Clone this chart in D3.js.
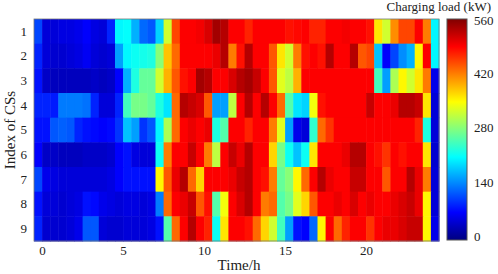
<!DOCTYPE html>
<html>
<head>
<meta charset="utf-8">
<script src="https://cdn.jsdelivr.net/npm/d3@7"></script>
<style>
  body { margin: 0; background: #fff; }
  svg { display: block; }
  text { font-family: "Liberation Serif", "Times New Roman", serif; fill: #222; }
</style>
</head>
<body>
<svg id="chart" width="498" height="274"></svg>
<script>
// ---- data: charging load (kW) of each CS over 50 half-hour slots ----
const csLabels = [1, 2, 3, 4, 5, 6, 7, 8, 9];
const xTicks = [0, 5, 10, 15, 20];
const cbarTicks = [0, 140, 280, 420, 560];
const slotStart = -0.5;   // first slot begins at -0.5 h
const slotWidth = 0.5;    // half-hour slots

const cs1 = [100,40,40,45,45,50,60,45,40,80,200,205,160,120,110,180,320,450,490,490,
             495,510,540,530,490,490,470,490,490,490,490,480,485,490,470,470,490,490,495,490,
             490,480,360,320,410,450,450,490,420,200];
const cs2 = [80,40,35,35,40,45,55,40,35,40,150,200,210,215,220,280,380,430,490,490,
             490,490,500,530,420,480,530,490,490,440,360,320,420,480,490,480,530,490,490,530,
             440,450,170,60,100,140,160,350,490,200];
const cs3 = [70,30,25,25,25,25,25,30,25,30,60,160,220,260,260,320,390,440,480,490,
             540,530,490,490,510,530,540,520,490,440,330,310,390,490,490,490,490,490,490,490,
             490,490,240,150,300,350,320,360,420,50];
const cs4 = [80,80,75,130,130,130,125,80,40,40,80,240,270,270,260,220,190,430,530,520,
             510,440,150,150,310,490,530,490,530,490,430,250,190,180,340,480,490,490,490,490,
             490,520,490,490,500,530,530,520,360,40];
const cs5 = [70,70,110,115,110,80,70,65,60,65,90,170,150,90,110,200,300,430,490,500,
             490,500,220,250,490,490,470,490,490,420,330,150,50,40,230,430,460,490,490,490,
             490,490,490,490,490,490,490,470,220,40];
const cs6 = [60,30,30,25,25,25,30,30,30,35,60,70,45,40,40,210,420,490,490,520,
             490,420,310,490,520,500,530,490,490,370,270,210,170,210,360,490,490,490,500,530,
             530,490,480,460,490,480,490,490,360,35];
const cs7 = [100,50,45,40,40,40,40,40,40,45,60,70,70,70,70,350,440,500,530,430,
             370,490,490,490,500,520,530,490,480,420,260,280,350,430,490,530,500,490,490,520,
             520,490,490,440,490,490,530,500,420,40];
const cs8 = [70,40,40,35,40,45,70,65,50,45,40,45,45,40,45,130,430,490,500,520,
             440,480,250,340,490,510,530,490,420,430,250,270,330,370,440,490,490,500,490,510,
             490,500,490,490,500,510,520,500,350,40];
const cs9 = [80,35,35,35,40,50,110,110,40,35,35,40,40,40,45,70,250,430,490,530,
             490,470,210,360,490,490,480,430,370,320,240,150,70,60,120,350,490,430,470,490,
             490,460,490,500,500,510,520,520,350,50];
const loads = [cs1, cs2, cs3, cs4, cs5, cs6, cs7, cs8, cs9];

// ---- layout ----
const svg = d3.select("#chart");
const plot = { left: 34, right: 439, top: 19, bottom: 241 };
const cbar = { left: 447, right: 467, top: 19, bottom: 240 };
const cDomain = [-10, 560];

const x = d3.scaleLinear().domain([-0.5, 24.5]).range([plot.left, plot.right]);
const y = d3.scaleBand().domain(csLabels).range([plot.top, plot.bottom]);

function jet(t) {
  t = Math.max(0, Math.min(1, t));
  const c = v => Math.round(255 * Math.max(0, Math.min(1, v)));
  const r = c(1.5 - Math.abs(4 * t - 3));
  const g = c(1.5 - Math.abs(4 * t - 2));
  const b = c(1.5 - Math.abs(4 * t - 1));
  return `rgb(${r},${g},${b})`;
}
const tScale = d3.scaleLinear().domain(cDomain).range([0, 1]).clamp(true);
const color = v => jet(tScale(v));

// cells
const cells = [];
loads.forEach((row, r) => {
  row.forEach((v, i) => cells.push({ cs: csLabels[r], t0: slotStart + i * slotWidth, v }));
});
svg.append("g").selectAll("rect").data(cells).join("rect")
  .attr("x", d => x(d.t0))
  .attr("y", d => y(d.cs))
  .attr("width", d => x(d.t0 + slotWidth) - x(d.t0) + 0.5)
  .attr("height", y.bandwidth() + 0.5)
  .attr("fill", d => color(d.v));

// frame
svg.append("rect")
  .attr("x", plot.left).attr("y", plot.top)
  .attr("width", plot.right - plot.left).attr("height", plot.bottom - plot.top)
  .attr("fill", "none").attr("stroke", "#777").attr("stroke-width", 0.8);

// x axis
const xAxis = svg.append("g").attr("transform", `translate(0,${plot.bottom})`)
  .call(d3.axisBottom(x).tickValues(xTicks).tickSize(0).tickPadding(5));
xAxis.select(".domain").remove();
xAxis.selectAll("text").style("font-size", "13px").style("font-family", "Liberation Serif").attr("fill", "#222");

// y axis
const yAxis = svg.append("g").attr("transform", `translate(${plot.left},0)`)
  .call(d3.axisLeft(y).tickSize(0).tickPadding(7));
yAxis.select(".domain").remove();
yAxis.selectAll("text").style("font-size", "13px").style("font-family", "Liberation Serif").attr("fill", "#222");

// axis titles
svg.append("text").attr("x", 239).attr("y", 270).attr("text-anchor", "middle")
  .style("font-size", "15px").text("Time/h");
svg.append("text").attr("transform", "translate(15,130) rotate(-90)")
  .attr("text-anchor", "middle").style("font-size", "15px").text("Index of CSs");

// colorbar
const cy = d3.scaleLinear().domain(cDomain).range([cbar.bottom, cbar.top]);
const defs = svg.append("defs");
const grad = defs.append("linearGradient").attr("id", "jetgrad")
  .attr("x1", 0).attr("y1", 1).attr("x2", 0).attr("y2", 0);
d3.range(0, 1.0001, 0.0625).forEach(s => {
  grad.append("stop").attr("offset", s).attr("stop-color", jet(s));
});
svg.append("rect")
  .attr("x", cbar.left).attr("y", cbar.top)
  .attr("width", cbar.right - cbar.left).attr("height", cbar.bottom - cbar.top)
  .attr("fill", "url(#jetgrad)").attr("stroke", "#555").attr("stroke-width", 1);
const cAxis = svg.append("g").attr("transform", `translate(${cbar.right},0)`)
  .call(d3.axisRight(cy).tickValues(cbarTicks).tickSize(0).tickPadding(7));
cAxis.select(".domain").remove();
cAxis.selectAll("text").style("font-size", "13px").style("font-family", "Liberation Serif").attr("fill", "#222");
cAxis.selectAll("text").filter(d => d === 560).attr("dy", "0.45em");

svg.append("text").attr("x", 491).attr("y", 11).attr("text-anchor", "end")
  .style("font-size", "13px").text("Charging load (kW)");
</script>
</body>
</html>
